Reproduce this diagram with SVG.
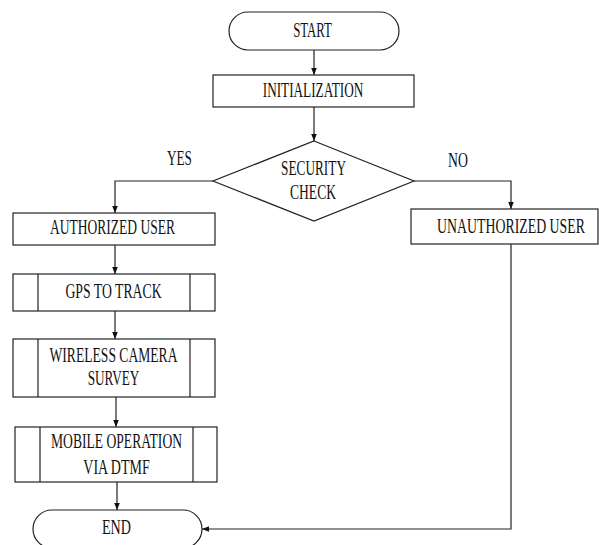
<svg xmlns="http://www.w3.org/2000/svg" width="599" height="545" viewBox="0 0 599 545">
<defs>
<style>
.s{fill:#fff;stroke:#222;stroke-width:1.2}
.c{fill:none;stroke:#222;stroke-width:1.2}
.t{font-family:"Liberation Serif","Times New Roman",serif;font-size:20px;fill:#111;text-anchor:middle}
</style>
<marker id="ah" viewBox="0 0 10 10" refX="10" refY="5" markerWidth="7" markerHeight="7" markerUnits="userSpaceOnUse" orient="auto">
<path d="M0,1 L10,5 L0,9 Z" fill="#111"/>
</marker>
</defs>
<rect width="599" height="545" fill="#fff"/>
<g id="connectors">
<path class="c" d="M314,50 V75" marker-end="url(#ah)"/>
<path class="c" d="M314,107 V141" marker-end="url(#ah)"/>
<path class="c" d="M213,181 H115 V213" marker-end="url(#ah)"/>
<path class="c" d="M414,181 H511 V209" marker-end="url(#ah)"/>
<path class="c" d="M115,245 V274" marker-end="url(#ah)"/>
<path class="c" d="M115,311 V339" marker-end="url(#ah)"/>
<path class="c" d="M116,397 V427" marker-end="url(#ah)"/>
<path class="c" d="M117,482 V510" marker-end="url(#ah)"/>
<path class="c" d="M511,244 V529 H202" marker-end="url(#ah)"/>
</g>
<g id="start">
<rect class="s" x="229" y="12" width="170" height="38" rx="19" ry="19"/>
<text class="t" transform="translate(312.5,37) scale(0.64,1)">START</text>
</g>
<g id="init">
<rect class="s" x="213" y="75" width="201" height="32"/>
<text class="t" transform="translate(313,97) scale(0.661,1)">INITIALIZATION</text>
</g>
<g id="security">
<polygon class="s" points="314,141 414,181 314,221 213,181"/>
<text class="t" transform="translate(313.5,175) scale(0.665,1)">SECURITY</text>
<text class="t" transform="translate(313,199) scale(0.679,1)">CHECK</text>
</g>
<g id="labels">
<text class="t" transform="translate(179.5,165) scale(0.66,1)">YES</text>
<text class="t" transform="translate(458,167) scale(0.69,1)">NO</text>
</g>
<g id="authorized">
<rect class="s" x="13" y="213" width="202" height="32"/>
<text class="t" transform="translate(112.5,234) scale(0.676,1)">AUTHORIZED USER</text>
</g>
<g id="unauthorized">
<rect class="s" x="411" y="209" width="187" height="35"/>
<text class="t" transform="translate(511,233) scale(0.692,1)">UNAUTHORIZED USER</text>
</g>
<g id="gps">
<rect class="s" x="13" y="274" width="202" height="37"/>
<path class="c" d="M38,274 V311 M190,274 V311"/>
<text class="t" transform="translate(113.5,298) scale(0.687,1)">GPS TO TRACK</text>
</g>
<g id="camera">
<rect class="s" x="13" y="339" width="202" height="58"/>
<path class="c" d="M38,339 V397 M190,339 V397"/>
<text class="t" transform="translate(113.5,362) scale(0.68,1)">WIRELESS CAMERA</text>
<text class="t" transform="translate(113.5,385) scale(0.66,1)">SURVEY</text>
</g>
<g id="mobile">
<rect class="s" x="15" y="427" width="202" height="55"/>
<path class="c" d="M40,427 V482 M193,427 V482"/>
<text class="t" transform="translate(116.5,448) scale(0.68,1)">MOBILE OPERATION</text>
<text class="t" transform="translate(116.5,474) scale(0.70,1)">VIA DTMF</text>
</g>
<g id="end">
<rect class="s" x="33" y="510" width="169" height="38" rx="19" ry="19"/>
<text class="t" transform="translate(116.5,534) scale(0.705,1)">END</text>
</g>
</svg>
